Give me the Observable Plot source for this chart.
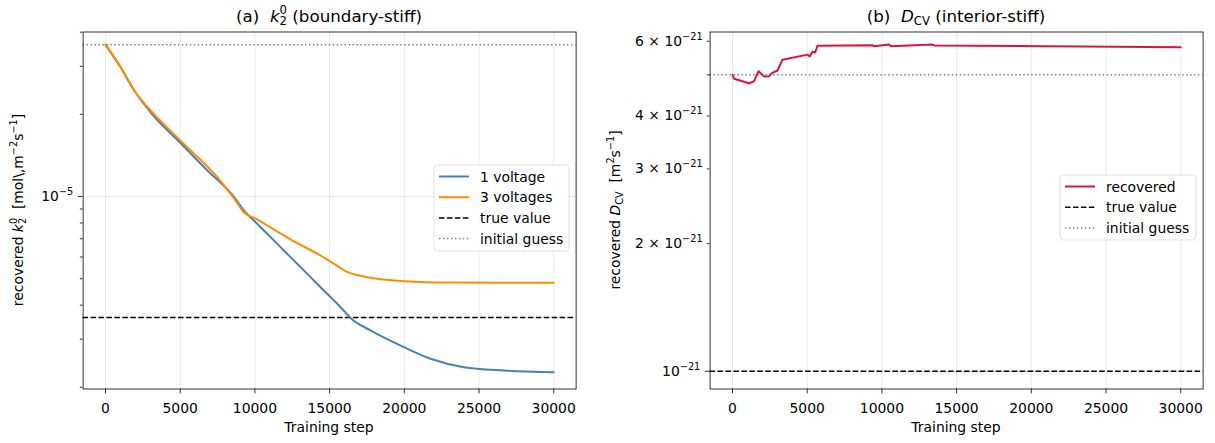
<!DOCTYPE html>
<html>
<head>
<meta charset="utf-8">
<script src="https://cdn.jsdelivr.net/npm/d3@7"></script>
<script src="https://cdn.jsdelivr.net/npm/@observablehq/plot@0.6"></script>
<style>
  body { margin: 0; background: #fff; }
  #wrap { position: relative; width: 1215px; height: 443px; }
  #wrap svg { position: absolute; top: 0; overflow: visible; font-family: "DejaVu Sans", sans-serif; }
</style>
</head>
<body>
<div id="wrap"></div>
<script>
const FS = 13.9;   // tick / label / legend font size (px)
const TFS = 16.7;  // panel title font size (px)

const stepTicks = [0, 5000, 10000, 15000, 20000, 25000, 30000];

// (a) recovered k2^0 — single-voltage and three-voltage training runs
const stepsOneV = [0, 1000, 2000, 3100, 5070, 6700, 8700, 9260, 10050, 11160, 11940, 13000, 14180, 15740, 16400, 17740, 19980, 21760, 23990, 26670, 30000];
const k2OneV = [3.6e-5, 2.98e-5, 2.41e-5, 2.01e-5, 1.56e-5, 1.263e-5, 9.81e-6, 8.89e-6, 8.05e-6, 7.0e-6, 6.34e-6, 5.55e-6, 4.78e-6, 3.93e-6, 3.59e-6, 3.23e-6, 2.805e-6, 2.544e-6, 2.369e-6, 2.305e-6, 2.272e-6];
const stepsThreeV = [0, 1000, 2000, 3130, 5070, 7480, 8700, 9260, 10050, 11940, 12720, 14180, 15400, 16070, 17300, 19980, 23100, 30000];
const k2ThreeV = [3.6e-5, 2.98e-5, 2.41e-5, 2.036e-5, 1.591e-5, 1.177e-5, 9.67e-6, 8.76e-6, 8.29e-6, 7.2e-6, 6.8e-6, 6.17e-6, 5.62e-6, 5.33e-6, 5.09e-6, 4.895e-6, 4.84e-6, 4.83e-6];
const k2True = 3.6e-6;
const k2Init = 3.6e-5;
const k2Domain = [1.971e-6, 4.006e-5];
const k2Major = [1e-5];
const k2Minor = [2e-6, 3e-6, 4e-6, 5e-6, 6e-6, 7e-6, 8e-6, 9e-6, 2e-5, 3e-5, 4e-5];

// (b) recovered D_CV
const stepsD = [0, 110, 1110, 1445, 1740, 2115, 2450, 2630, 3010, 3345, 5020, 5175, 5355, 5530, 5690, 9370, 9475, 10480, 10595, 13385, 13490, 30000];
const dcv = [5.0e-21, 4.894e-21, 4.778e-21, 4.83e-21, 5.10e-21, 4.955e-21, 4.964e-21, 5.045e-21, 5.12e-21, 5.43e-21, 5.58e-21, 5.525e-21, 5.67e-21, 5.646e-21, 5.855e-21, 5.874e-21, 5.84e-21, 5.896e-21, 5.84e-21, 5.896e-21, 5.865e-21, 5.81e-21];
const dTrue = 1e-21;
const dInit = 5e-21;
const dDomain = [9.08e-22, 6.31e-21];
const dMajor = [1e-21];
const dMinorLabeled = [2e-21, 3e-21, 4e-21, 6e-21];
const dMinorPlain = [5e-21];

const legendA = ["1 voltage", "3 voltages", "true value", "initial guess"];
const legendB = ["recovered", "true value", "initial guess"];

const C_ONE = "#4682b4", C_THREE = "#ff8c00", C_D = "#dc143c";
const DASH = "5.55,2.4", DOT = "1.5,2.47";
const DOT_W = 1.5;

const oneV = stepsOneV.map((s, i) => ({step: s, value: k2OneV[i]}));
const threeV = stepsThreeV.map((s, i) => ({step: s, value: k2ThreeV[i]}));
const dRun = stepsD.map((s, i) => ({step: s, value: dcv[i]}));

const gridStyle = {stroke: "#b0b0b0", strokeOpacity: 0.35, strokeWidth: 0.8};

function commonMarks(yMajor) {
  return [
    Plot.gridX(stepTicks, gridStyle),
    Plot.gridY(yMajor, gridStyle)
  ];
}
function axes(yMajor, yMajorFmt, yMinorLabeled, yMinorFmt, yMinorPlain) {
  const marks = [
    Plot.frame({stroke: "black", strokeWidth: 0.8}),
    Plot.axisX(stepTicks, {tickSize: 4.9, tickPadding: 9, tickFormat: "d", label: null, strokeWidth: 0.8, fontSize: FS}),
    Plot.axisY(yMajor, {tickSize: 4.9, tickPadding: 4.9, tickFormat: yMajorFmt, label: null, strokeWidth: 0.8, fontSize: FS}),
    Plot.axisY(yMinorPlain, {tickSize: 2.8, tickFormat: () => "", label: null, strokeWidth: 0.8})
  ];
  if (yMinorLabeled.length) marks.push(Plot.axisY(yMinorLabeled, {tickSize: 2.8, tickPadding: 4.7, tickFormat: yMinorFmt, label: null, strokeWidth: 0.8, fontSize: FS}));
  return marks;
}

// turn "a^b" tick strings into base + superscript
function supify(svg) {
  d3.select(svg).selectAll("text").each(function () {
    const s = this.textContent;
    if (!s.includes("^")) return;
    const [base, exp] = s.split("^");
    const t = d3.select(this);
    t.text(null);
    t.append("tspan").text(base);
    t.append("tspan").attr("dy", -0.43 * FS).attr("font-size", 0.7 * FS).text(exp);
  });
}

// rich text: parts = [text, kind, dxBack]; kind in "", "it", "sup", "sub"
function rich(parent, x, y, fs, parts, rotate) {
  const t = parent.append("text")
    .attr("x", x).attr("y", y)
    .attr("text-anchor", "middle")
    .attr("font-size", fs)
    .attr("fill", "black")
    .style("white-space", "pre");
  if (rotate) t.attr("transform", `rotate(-90,${x},${y})`);
  let cur = 0;
  for (const [txt, kind, back] of parts) {
    let target = 0, size = fs, italic = false;
    if (kind === "sup") { target = -0.42 * fs; size = 0.7 * fs; }
    if (kind === "sub") { target = 0.22 * fs; size = 0.7 * fs; }
    if (kind === "it") italic = true;
    const ts = t.append("tspan").text(txt).attr("font-size", size);
    if (italic) ts.attr("font-style", "italic");
    if (target !== cur) ts.attr("dy", target - cur);
    if (back) ts.attr("dx", -back);
    cur = target;
  }
  return t;
}

function legend(g, x, y, w, h, items) {
  const lg = g.append("g").attr("text-anchor", "start");
  lg.append("rect").attr("x", x).attr("y", y).attr("width", w).attr("height", h)
    .attr("rx", 3.5).attr("fill", "white").attr("fill-opacity", 0.8)
    .attr("stroke", "#cccccc").attr("stroke-opacity", 0.8).attr("stroke-width", 0.8);
  items.forEach((it, i) => {
    const cy = y + 11.5 + i * 20.7;
    const ln = lg.append("line").attr("x1", x + 5).attr("x2", x + 35).attr("y1", cy).attr("y2", cy)
      .attr("stroke", it.stroke).attr("stroke-width", it.width);
    if (it.dash) ln.attr("stroke-dasharray", it.dash);
    lg.append("text").attr("x", x + 46).attr("y", cy).attr("dy", "0.36em")
      .attr("text-anchor", "start")
      .attr("font-size", FS).attr("fill", "black").text(it.label);
  });
}

const wrap = document.getElementById("wrap");

// ---------- panel (a) ----------
const plotA = Plot.plot({
  width: 600, height: 443,
  marginLeft: 82.6, marginRight: 24.4, marginTop: 31.5, marginBottom: 54.5,
  style: {fontFamily: "DejaVu Sans", fontSize: FS + "px", color: "black", background: "transparent", overflow: "visible"},
  x: {domain: [-1500, 31500]},
  y: {type: "log", domain: k2Domain},
  marks: [
    ...commonMarks(k2Major),
    Plot.ruleY([k2True], {stroke: "black", strokeWidth: 1.5, strokeDasharray: DASH}),
    Plot.ruleY([k2Init], {stroke: "gray", strokeWidth: DOT_W, strokeDasharray: DOT}),
    Plot.line(oneV, {x: "step", y: "value", stroke: C_ONE, strokeWidth: 2, curve: "monotone-x"}),
    Plot.line(threeV, {x: "step", y: "value", stroke: C_THREE, strokeWidth: 2, curve: "monotone-x"}),
    ...axes(k2Major, () => "10^−5", [], null, k2Minor)
  ]
});
plotA.style.left = "0px";
wrap.appendChild(plotA);
supify(plotA);
{
  const g = d3.select(plotA);
  rich(g, 329, 21.5, TFS, [["(a)  ", ""], ["k", "it"], ["0", "sup"], ["2", "sub", 0.7 * TFS * 0.636], [" (boundary-stiff)", ""]]);
  rich(g, 23, 210, FS, [["recovered ", ""], ["k", "it"], ["0", "sup"], ["2", "sub", 0.7 * FS * 0.636], ["  [mol\\,m", ""], ["−2", "sup"], ["s", ""], ["−1", "sup"], ["]", ""]], true);
  g.append("text").attr("x", 329).attr("y", 432).attr("text-anchor", "middle")
    .attr("font-size", FS).attr("fill", "black").text("Training step");
  legend(g, 434, 165, 135, 86, [
    {label: legendA[0], stroke: C_ONE, width: 2},
    {label: legendA[1], stroke: C_THREE, width: 2},
    {label: legendA[2], stroke: "black", width: 1.5, dash: DASH},
    {label: legendA[3], stroke: "gray", width: DOT_W, dash: DOT}
  ]);
}

// ---------- panel (b) ----------
const plotB = Plot.plot({
  width: 615, height: 443,
  marginLeft: 109.6, marginRight: 12.4, marginTop: 31.5, marginBottom: 54.5,
  style: {fontFamily: "DejaVu Sans", fontSize: FS + "px", color: "black", background: "transparent", overflow: "visible"},
  x: {domain: [-1500, 31500]},
  y: {type: "log", domain: dDomain},
  marks: [
    ...commonMarks(dMajor),
    Plot.ruleY([dTrue], {stroke: "black", strokeWidth: 1.5, strokeDasharray: DASH}),
    Plot.ruleY([dInit], {stroke: "gray", strokeWidth: DOT_W, strokeDasharray: DOT}),
    Plot.line(dRun, {x: "step", y: "value", stroke: C_D, strokeWidth: 2}),
    ...axes(dMajor, () => "10^−21", dMinorLabeled, d => `${Math.round(d / 1e-21)} × 10^−21`, dMinorPlain)
  ]
});
plotB.style.left = "600px";
wrap.appendChild(plotB);
supify(plotB);
{
  const g = d3.select(plotB);
  rich(g, 356, 21.5, TFS, [["(b)  ", ""], ["D", "it"], ["CV", "sub"], [" (interior-stiff)", ""]]);
  rich(g, 20, 210, FS, [["recovered ", ""], ["D", "it"], ["CV", "sub"], ["  [m", ""], ["2", "sup"], ["s", ""], ["−1", "sup"], ["]", ""]], true);
  g.append("text").attr("x", 356).attr("y", 432).attr("text-anchor", "middle")
    .attr("font-size", FS).attr("fill", "black").text("Training step");
  legend(g, 460, 175, 136, 65, [
    {label: legendB[0], stroke: C_D, width: 2},
    {label: legendB[1], stroke: "black", width: 1.5, dash: DASH},
    {label: legendB[2], stroke: "gray", width: DOT_W, dash: DOT}
  ]);
}
</script>
</body>
</html>
